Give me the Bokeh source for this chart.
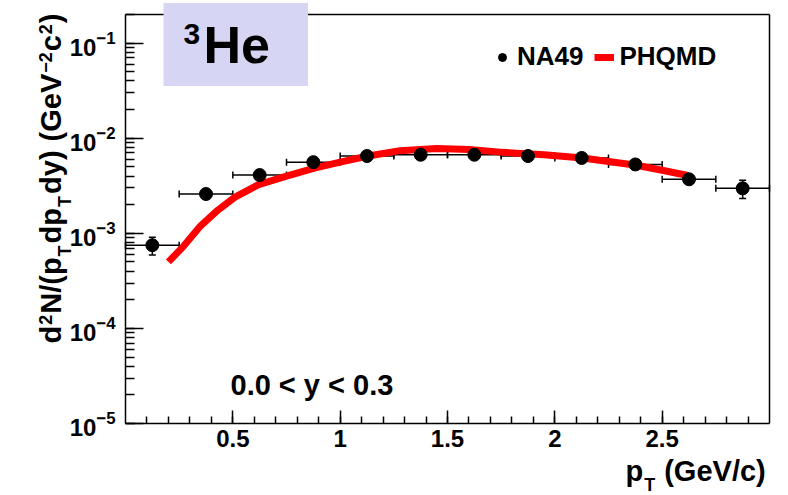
import math
import numpy as np
from bokeh.plotting import figure
from bokeh.models import (ColumnDataSource, Whisker, TeeHead, Label, Legend, LegendItem,
                          FixedTicker, CustomJSTickFormatter, LogTicker, LinearAxis, LogAxis)
from bokeh.embed import file_html
from bokeh.resources import INLINE

# ---------------- data ----------------
pt = [0.125, 0.375, 0.625, 0.875, 1.125, 1.375, 1.625, 1.875, 2.125, 2.375, 2.625, 2.875]
pt_halfwidth = [0.125] * 12
na49 = [7.5e-4, 2.59e-3, 4.1e-3, 5.6e-3, 6.5e-3, 6.7e-3, 6.7e-3, 6.5e-3, 6.2e-3, 5.3e-3, 3.7e-3, 2.97e-3]
na49_err = [1.6e-4, 1.5e-4, 2.0e-4, 2.5e-4, 2.5e-4, 2.5e-4, 2.5e-4, 2.5e-4, 3.0e-4, 6.0e-4, 4.0e-4, 6.5e-4]

phqmd_pt = [0.20, 0.27, 0.35, 0.43, 0.51, 0.62, 0.75, 0.88, 1.00, 1.13, 1.28, 1.45,
            1.60, 1.76, 1.95, 2.13, 2.38, 2.50, 2.62]
phqmd_y = [5.0e-4, 7.3e-4, 1.2e-3, 1.75e-3, 2.4e-3, 3.25e-3, 4.0e-3, 4.85e-3, 5.6e-3, 6.5e-3,
           7.4e-3, 7.8e-3, 7.6e-3, 7.1e-3, 6.7e-3, 6.2e-3, 5.2e-3, 4.6e-3, 4.05e-3]

x_major_ticks = [0.5, 1.0, 1.5, 2.0, 2.5]
x_limits = (0.0, 3.0)
y_limits = (1e-5, 0.2)

FONT = "Liberation Sans"

# ---------------- layout (canvas pixels) ----------------
CW, CH = 788, 495
FL, FR, FT, FB = 125, 769, 14, 423          # edges of the ROOT-style frame
sx = (FR - FL) / (x_limits[1] - x_limits[0])
xr = (x_limits[0] - FL / sx, x_limits[1] + (CW - FR) / sx)
ly0, ly1 = math.log10(y_limits[0]), math.log10(y_limits[1])
sy = (FB - FT) / (ly1 - ly0)
yr = (10 ** (ly0 - (CH - FB) / sy), 10 ** (ly1 + FT / sy))

p = figure(width=CW, height=CH, x_range=xr, y_range=yr, y_axis_type="log",
           output_backend="svg", toolbar_location=None,
           min_border=0, min_border_left=0, min_border_right=0,
           min_border_top=0, min_border_bottom=0,
           background_fill_color="white", border_fill_color="white",
           outline_line_color=None)
p.xgrid.visible = False
p.ygrid.visible = False

# bottom axis
p.xaxis.fixed_location = y_limits[0]
p.xaxis.bounds = x_limits
p.xaxis.ticker = FixedTicker(ticks=x_major_ticks,
                             minor_ticks=[round(0.1 * i, 1) for i in range(1, 30)])
p.xaxis.formatter = CustomJSTickFormatter(code="return tick.toString();")
p.xaxis.major_tick_in = 13
p.xaxis.major_tick_out = 0
p.xaxis.minor_tick_in = 7
p.xaxis.minor_tick_out = 0
p.xaxis.major_label_standoff = 6

# left axis
p.yaxis.fixed_location = x_limits[0]
p.yaxis.bounds = y_limits
p.yaxis.ticker = LogTicker(num_minor_ticks=10)
p.yaxis.major_tick_in = 18
p.yaxis.major_tick_out = 0
p.yaxis.minor_tick_in = 9
p.yaxis.minor_tick_out = 0
p.yaxis.major_label_standoff = 10

for ax in (p.xaxis, p.yaxis):
    ax.axis_line_color = "black"
    ax.axis_line_width = 1.5
    ax.major_tick_line_color = "black"
    ax.major_tick_line_width = 1.5
    ax.minor_tick_line_color = "black"
    ax.minor_tick_line_width = 1.5
    ax.major_label_text_font = FONT
    ax.major_label_text_font_style = "bold"
    ax.major_label_text_font_size = "24px"
    ax.major_label_text_color = "black"

# top and right frame lines
top_axis = LinearAxis(fixed_location=y_limits[1], bounds=x_limits, ticker=FixedTicker(ticks=[]),
                      axis_line_color="black", axis_line_width=1.5,
                      major_tick_line_color=None, minor_tick_line_color=None,
                      major_label_text_alpha=0)
p.add_layout(top_axis, "above")
right_axis = LogAxis(fixed_location=x_limits[1], bounds=y_limits, ticker=FixedTicker(ticks=[]),
                     axis_line_color="black", axis_line_width=1.5,
                     major_tick_line_color=None, minor_tick_line_color=None,
                     major_label_text_alpha=0)
p.add_layout(right_axis, "right")

# ---------------- glyphs ----------------
line = p.line(phqmd_pt, phqmd_y, line_color="#ff0000", line_width=7, line_join="round")

src = ColumnDataSource(dict(
    x=pt, y=na49,
    xl=[a - b for a, b in zip(pt, pt_halfwidth)],
    xu=[a + b for a, b in zip(pt, pt_halfwidth)],
    yl=[a - b for a, b in zip(na49, na49_err)],
    yu=[a + b for a, b in zip(na49, na49_err)],
))

pts = p.scatter("x", "y", source=src, size=13, color="black")

for base, lo, hi, dim in (("y", "xl", "xu", "width"), ("x", "yl", "yu", "height")):
    p.add_layout(Whisker(source=src, base=base, lower=lo, upper=hi, dimension=dim,
                         line_color="black", line_width=1.5,
                         upper_head=TeeHead(size=7, line_width=1.5, line_color="black"),
                         lower_head=TeeHead(size=7, line_width=1.5, line_color="black")))

# ---------------- legend ----------------
legend = Legend(items=[LegendItem(label="NA49", renderers=[pts]),
                       LegendItem(label="PHQMD", renderers=[line])],
                orientation="horizontal", location=(492, CH - 72),
                glyph_width=20, glyph_height=20, label_standoff=5, spacing=11,
                padding=0, margin=0,
                background_fill_alpha=0, border_line_alpha=0,
                label_text_font=FONT, label_text_font_style="bold",
                label_text_font_size="26px", label_text_color="black")
p.add_layout(legend)

# ---------------- rich text helpers (canvas pixel positions) ----------------
W = {' ': 278, '(': 333, ')': 333, '/': 278, '.': 278, '-': 333, '\u2212': 584, '<': 584,
     'A': 722, 'D': 722, 'G': 778, 'H': 722, 'M': 833, 'N': 722, 'P': 667, 'Q': 778,
     'T': 611, 'V': 667, 'c': 556, 'd': 611, 'e': 556, 'p': 611, 'y': 556}


def tw(s, size):
    return sum(W.get(c, 556) for c in s) / 1000.0 * size


def add_text(text, cx, cy, size, vertical=False):
    # (cx, cy): start of the baseline in canvas pixels (origin top-left)
    off = 0.36 * size
    if vertical:
        x, y, ang = cx - off, CH - cy, np.pi / 2
    else:
        x, y, ang = cx, CH - cy + off, 0.0
    p.add_layout(Label(x=x, y=y, x_units="screen", y_units="screen", text=text,
                       angle=ang, text_font=FONT, text_font_style="bold",
                       text_font_size=f"{size}px", text_color="black",
                       text_baseline="middle", text_align="left"))


def rich(pieces, cx0, cy0, vertical=False, gap=1.0):
    # pieces: (text, font size, baseline shift (+ = up), extra space before)
    pos = 0.0
    for text, size, shift, pre in pieces:
        pos += pre
        if vertical:
            add_text(text, cx0 - shift, cy0 - pos, size, vertical=True)
        else:
            add_text(text, cx0 + pos, cy0 - shift, size)
        pos += tw(text, size) + gap


# title box "3He"
p.add_layout(Label(x=163, y=CH - 44, x_units="screen", y_units="screen", text="He",
                   text_font=FONT, text_font_style="bold", text_font_size="52px",
                   text_color="black", text_baseline="middle", text_align="left",
                   background_fill_color="#d6d6f4",
                   padding=dict(left=40, right=38, top=13, bottom=12)))
add_text("3", 183, 44, 30)

# rapidity annotation
add_text("0.0 < y < 0.3", 230, 395, 29)

# x title
rich([("p", 29, 0, 0), ("T", 18, -10, 0), ("(GeV/c)", 29, 0, 8)], 625, 481)

# y title
rich([("d", 29, 0, 0), ("2", 18, 10, 0), ("N/(p", 29, 0, 0), ("T", 18, -10, 0),
      ("dp", 29, 0, 1), ("T", 18, -10, 0), ("dy)", 29, 0, 1), ("(GeV", 29, 0, 8),
      ("\u22122", 18, 10, 0), ("c", 29, 0, 0), ("2", 18, 10, 0), (")", 29, 0, 0)],
     61, 343, vertical=True)

open("out.html", "w").write(file_html(p, INLINE))
